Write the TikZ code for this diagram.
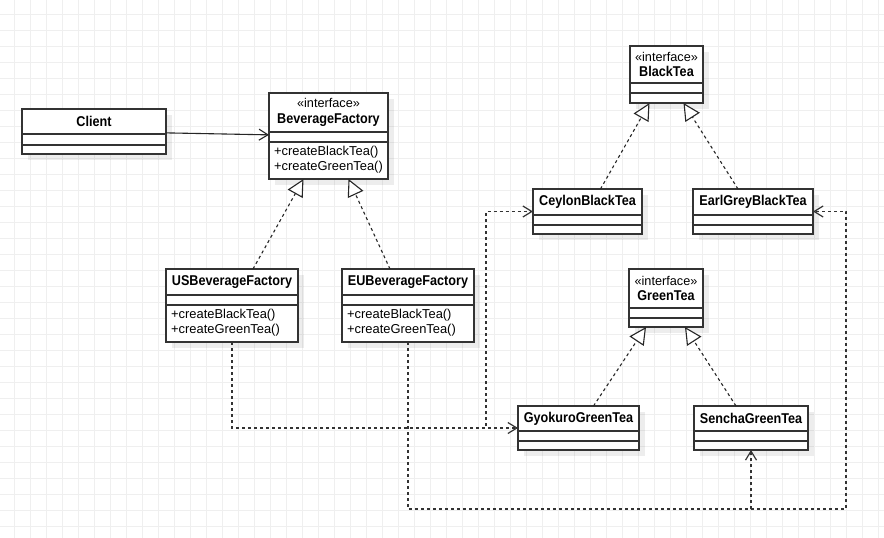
\documentclass[tikz,border=0pt]{standalone}
\usepackage{fontspec}
\setmainfont{Liberation Sans}
\newfontfamily\titlefont[FakeStretch=0.89]{Liberation Sans}
\usetikzlibrary{arrows.meta}
\definecolor{boxgray}{HTML}{333333}
\definecolor{gridgray}{HTML}{EFEFEF}

\newcommand{\umlclass}[9]{%
  \fill[boxshadow] (#2+6,#3+6) rectangle (#4+6,#5+6);
  \node[classbox, minimum width={#4-#2}, minimum height={#5-#3}] (#1) at ({(#2+#4)/2},{(#3+#5)/2}) {};
  \draw[classline] (#2,#6) -- (#4,#6) (#2,#7) -- (#4,#7);
  \node[titletext] at ({(#2+#4)/2},{(#3+#6)/2}) {#8};
  \node[methodtext] at (#2+5,{(#7+#5)/2-1}) {#9};
}
\newcommand{\stereo}{{\normalfont\fontsize{12.7}{15.5}\selectfont «interface»}}

\begin{document}
\begin{tikzpicture}[x=1pt, y=-1pt,
    gridline/.style={draw=gridgray, line width=0.8pt},
    classbox/.style={draw=boxgray, line width=1.3pt, fill=white, inner sep=0pt, outer sep=0pt},
    classline/.style={draw=boxgray, line width=1.3pt},
    boxshadow/.style={fill=black, opacity=0.07},
    titletext/.style={align=center, inner sep=0pt, font=\titlefont\bfseries\fontsize{14.2}{15.8}\selectfont},
    methodtext/.style={anchor=west, align=left, inner sep=0pt, font=\fontsize{12.9}{15}\selectfont},
    assoc/.style={draw=black!85, line width=1.1pt, -{Straight Barb[length=9pt,width=11pt]}},
    realize/.style={draw=black!85, line width=1.1pt, dash pattern=on 3pt off 3pt, -{Triangle[fill=white, length=17pt, width=17pt]}},
    dep/.style={draw=black!80, line width=1.2pt, dash pattern=on 3pt off 3pt, -{Straight Barb[length=9pt,width=11pt]}}]
  \fill[white] (0,0) rectangle (884,538);
  \useasboundingbox (0,0) rectangle (884,538);
  \foreach \gx in {14.5,30.5,...,884} \draw[gridline] (\gx,0) -- (\gx,538);
  \foreach \gy in {14.5,30.5,...,538} \draw[gridline] (0,\gy) -- (884,\gy);

  \umlclass{client}{22}{109}{166}{154}{134}{145}{Client}{}
  \umlclass{factory}{269}{93}{388}{179}{132}{142}{\stereo\\BeverageFactory}{+createBlackTea()\\+createGreenTea()}
  \umlclass{usfactory}{166}{269}{298}{342}{295}{305}{USBeverageFactory}{+createBlackTea()\\+createGreenTea()}
  \umlclass{eufactory}{342}{269}{474}{342}{295}{305}{EUBeverageFactory}{+createBlackTea()\\+createGreenTea()}
  \umlclass{blacktea}{630}{46}{703}{103}{83}{93}{\stereo\\BlackTea}{}
  \umlclass{ceylon}{533}{189}{642}{234}{215}{225}{CeylonBlackTea}{}
  \umlclass{earlgrey}{693}{189}{813}{234}{215}{225}{EarlGreyBlackTea}{}
  \umlclass{greentea}{629}{269}{703}{327}{308}{318}{\stereo\\GreenTea}{}
  \umlclass{gyokuro}{518}{406}{639}{450}{431}{441}{GyokuroGreenTea}{}
  \umlclass{sencha}{694}{406}{808}{450}{431}{441}{SenchaGreenTea}{}

  \draw[assoc] (client) -- (factory);
  \draw[realize] ([xshift=21]usfactory.north) -- ([xshift=-25]factory.south);
  \draw[realize] ([xshift=-18]eufactory.north) -- ([xshift=20]factory.south);
  \draw[realize] ([xshift=13]ceylon.north) -- ([xshift=-17]blacktea.south);
  \draw[realize] ([xshift=-15]earlgrey.north) -- ([xshift=17]blacktea.south);
  \draw[realize] ([xshift=15]gyokuro.north) -- ([xshift=-20]greentea.south);
  \draw[realize] ([xshift=-15]sencha.north) -- ([xshift=19]greentea.south);

  \coordinate (usbend) at (486,428);
  \coordinate (eucorner) at (846,509);
  \draw[dep] (usfactory.south) |- (gyokuro.west);
  \draw[dep] (usfactory.south) |- (usbend) |- (ceylon.west);
  \draw[dep] (eufactory.south) |- (sencha.south |- eucorner) -- (sencha.south);
  \draw[dep] (eufactory.south) |- (eucorner) |- (earlgrey.east);
\end{tikzpicture}
\end{document}
